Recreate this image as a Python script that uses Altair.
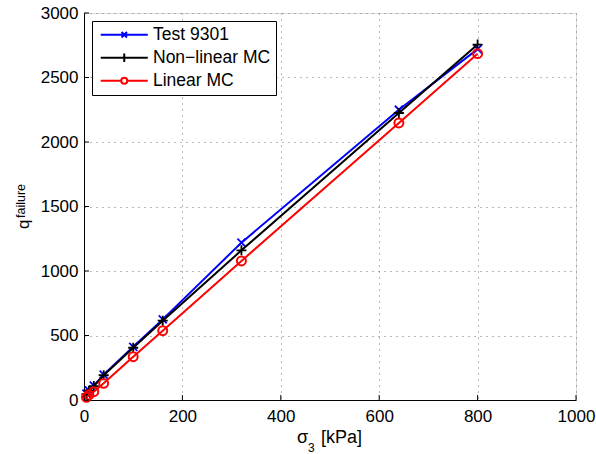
import altair as alt
import pandas as pd

# ---- data ----
sigma3 = [5, 10, 20, 40, 100, 160, 320, 640, 800]
test_9301 = [50, 75, 112, 196, 412, 625, 1220, 2250, 2720]
nonlinear_mc = [45, 72, 108, 192, 405, 615, 1160, 2225, 2755]
linear_mc = [21, 39, 64, 129, 336, 537, 1078, 2148, 2685]

series_names = ["Test 9301", "Non\u2212linear MC", "Linear MC"]
series_colors = ["#0000ff", "#000000", "#ff0000"]

x_ticks = [0, 200, 400, 600, 800, 1000]
y_ticks = [0, 500, 1000, 1500, 2000, 2500, 3000]

y_title_main = ["q"]
y_title_sup = ["failure"]
x_title_sigma = ["\u03c3"]
x_title_sub = ["3"]
x_title_unit = ["[kPa]"]

# ---- layout ----
W, H = 492, 387
FONT = "Liberation Sans"

rows = []
for name, vals in zip(series_names, [test_9301, nonlinear_mc, linear_mc]):
    for s, q in zip(sigma3, vals):
        rows.append({"series": name, "sigma3": s, "q": q})
df = pd.DataFrame(rows)

x_scale = alt.Scale(domain=[0, 1000], nice=False, zero=False)
y_scale = alt.Scale(domain=[0, 3000], nice=False, zero=False)

x_axis = alt.Axis(values=x_ticks, title=None, grid=True, gridDash=[1, 5],
                  gridColor="#707070", gridWidth=1, ticks=False, tickSize=0,
                  domain=True, domainColor="black", domainWidth=1,
                  labelFont=FONT, labelFontSize=17, labelColor="black",
                  labelPadding=8, labelFlush=False, format="d")
y_axis = alt.Axis(values=y_ticks, title=None, grid=True, gridDash=[1, 5],
                  gridColor="#707070", gridWidth=1, ticks=False, tickSize=0,
                  domain=True, domainColor="black", domainWidth=1,
                  labelFont=FONT, labelFontSize=17, labelColor="black",
                  labelPadding=6, labelFlush=False, format="d")

base = alt.Chart(df)

marker_shapes = [
    "M-1,-1L1,1M-1,1L1,-1",
    "M-1,0L1,0M0,-1L0,1",
    "circle",
]
marker_sizes = [64, 100, 80]

layers = []
for name, color, shp, sz in zip(series_names, series_colors, marker_shapes, marker_sizes):
    sub = base.transform_filter(alt.datum.series == name)
    line = sub.mark_line(color=color, strokeWidth=2).encode(
        x=alt.X("sigma3:Q", scale=x_scale, axis=x_axis),
        y=alt.Y("q:Q", scale=y_scale, axis=y_axis),
        order="sigma3:Q",
    )
    pts = sub.mark_point(color=color, shape=shp, size=sz, filled=False,
                         strokeWidth=2 if shp == "circle" else 1.8, opacity=1).encode(
        x=alt.X("sigma3:Q", scale=x_scale, axis=x_axis),
        y=alt.Y("q:Q", scale=y_scale, axis=y_axis),
    )
    layers += [line, pts]

# inward tick marks on left and bottom axes
xt = alt.Chart(pd.DataFrame({"sigma3": x_ticks})).mark_rule(color="black", strokeWidth=1).encode(
    x=alt.X("sigma3:Q", scale=x_scale, axis=x_axis),
    y=alt.value(H), y2=alt.value(H - 5),
)
yt = alt.Chart(pd.DataFrame({"q": y_ticks})).mark_rule(color="black", strokeWidth=1).encode(
    y=alt.Y("q:Q", scale=y_scale, axis=y_axis),
    x=alt.value(0), x2=alt.value(5),
)

# legend (MATLAB style: line with marker)
legend_paths = [
    "M-3.92,0L3.92,0M-0.45,-0.45L0.45,0.45M-0.45,0.45L0.45,-0.45",
    "M-3.92,0L3.92,0M0,-0.7L0,0.7",
    "M-3.92,0L-0.5,0M0.5,0L3.92,0M0.5,0A0.5,0.5,0,1,1,-0.5,0A0.5,0.5,0,1,1,0.5,0",
]
leg = alt.Legend(title=None, orient="none", legendX=8, legendY=8, padding=5,
                 strokeColor="black", fillColor="white", cornerRadius=0,
                 symbolSize=144, symbolStrokeWidth=2, symbolOffset=18.5,
                 labelOffset=20, labelFont=FONT, labelFontSize=17.5,
                 labelColor="black", rowPadding=4, labelLimit=400)
legend_layer = base.transform_filter("false").mark_point(
    filled=False, size=144, strokeWidth=2, opacity=1).encode(
    x=alt.X("sigma3:Q", scale=x_scale, axis=x_axis),
    y=alt.Y("q:Q", scale=y_scale, axis=y_axis),
    color=alt.Color("series:N", scale=alt.Scale(domain=series_names, range=series_colors), legend=leg),
    shape=alt.Shape("series:N", scale=alt.Scale(domain=series_names, range=legend_paths), legend=leg),
)

# axis titles with sub/superscripts
def txt(values, **kw):
    return alt.Chart(pd.DataFrame({"t": values})).mark_text(font=FONT, color="black", **kw)

yq = txt(y_title_main, fontSize=17, angle=270, align="left", baseline="alphabetic").encode(
    text="t:N", x=alt.value(-55), y=alt.value(216))
ysup = txt(y_title_sup, fontSize=12.5, angle=270, align="left", baseline="alphabetic").encode(
    text="t:N", x=alt.value(-59), y=alt.value(205))
xs = txt(x_title_sigma, fontSize=18, align="left", baseline="alphabetic").encode(
    text="t:N", x=alt.value(213), y=alt.value(430))
xsub = txt(x_title_sub, fontSize=12, align="left", baseline="alphabetic").encode(
    text="t:N", x=alt.value(224), y=alt.value(439))
xu = txt(x_title_unit, fontSize=18, align="left", baseline="alphabetic").encode(
    text="t:N", x=alt.value(237), y=alt.value(430))

chart = alt.layer(*layers, xt, yt, legend_layer, yq, ysup, xs, xsub, xu).properties(
    width=W, height=H,
    autosize=alt.AutoSizeParams(type="none"),
    padding={"left": 84, "top": 13, "right": 20, "bottom": 54},
).configure_view(stroke=None).configure(background="white")

chart.save("out.html", embed_options={"renderer": "svg", "actions": False})
